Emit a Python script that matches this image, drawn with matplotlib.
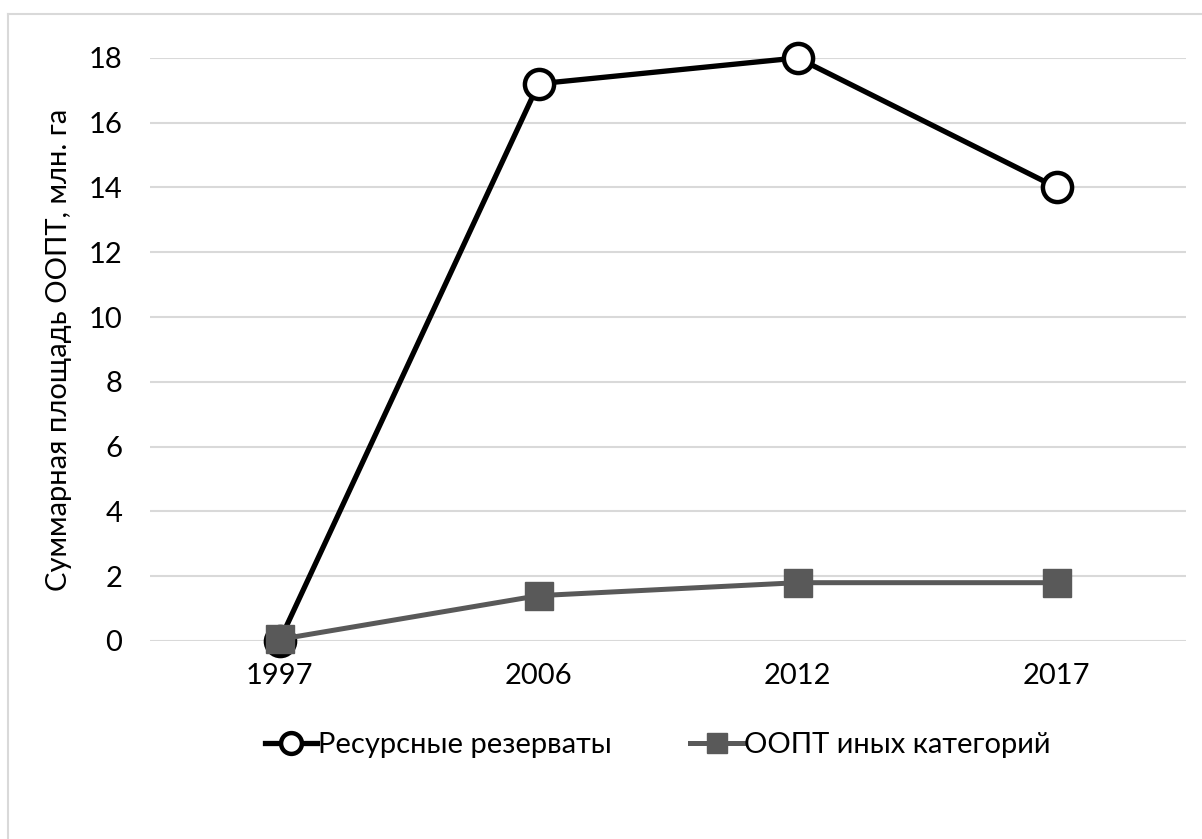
"""
Суммарная площадь ООПТ: ресурсные резерваты vs ООПТ иных категорий.
Excel-style line chart redrawn with matplotlib.
"""
import matplotlib
matplotlib.use("Agg")
import matplotlib.pyplot as plt
from matplotlib.lines import Line2D

plt.rcParams["font.family"] = ["Lato", "DejaVu Sans"]

# --------------------------------------------------------------------------- #
# Data
# --------------------------------------------------------------------------- #
years = ["1997", "2006", "2012", "2017"]
resource_reserves = [0.0, 17.2, 18.0, 14.0]
other_categories = [0.05, 1.4, 1.8, 1.8]
yticks = list(range(0, 20, 2))

LABEL_1 = "Ресурсные резерваты"
LABEL_2 = "ООПТ иных категорий"
YLABEL = "Суммарная площадь ООПТ, млн. га"

GRID = "#d9d9d9"
GRAY = "#595959"
FS = 21

fig = plt.figure(figsize=(12.02, 8.39), dpi=100)
ax = fig.add_axes([0.1248, 0.236, 0.862, 0.695])

x = list(range(len(years)))
ax.plot(x, resource_reserves, color="black", lw=3.8, marker="o", ms=21,
        mfc="white", mec="black", mew=3.2, label=LABEL_1, zorder=3,
        clip_on=False)
ax.plot(x, other_categories, color=GRAY, lw=3.6, marker="s", ms=20,
        mfc=GRAY, mec=GRAY, label=LABEL_2, zorder=4, clip_on=False)

ax.set_xlim(-0.5, len(years) - 0.5)
ax.set_ylim(0, 18)
ax.set_xticks(x)
ax.set_xticklabels(years)
ax.set_yticks(yticks)
ax.tick_params(axis="y", length=0, labelsize=FS, pad=20)
ax.tick_params(axis="x", length=0, labelsize=FS, pad=16)
ax.grid(axis="y", color=GRID, lw=1.5)
ax.set_axisbelow(True)
for s in ax.spines.values():
    s.set_visible(False)
ax.set_ylabel(YLABEL, fontsize=FS, labelpad=12)

# legend at the bottom (line + marker handles as in Excel)
h1 = Line2D([], [], color="black", lw=3.8, marker="o", ms=15,
            mfc="white", mec="black", mew=3.2)
h2 = Line2D([], [], color=GRAY, lw=3.6, marker="s", ms=15, mfc=GRAY, mec=GRAY)
fig.legend([h1, h2], [LABEL_1, LABEL_2], loc="center",
           bbox_to_anchor=(0.547, 0.112), ncol=2, frameon=False,
           fontsize=FS, handlelength=1.8, handletextpad=0.02,
           columnspacing=2.7)

# chart area border (left and top edges visible)
fig.add_artist(Line2D([8 / 1202, 8 / 1202], [0, 1 - 14 / 839],
                      transform=fig.transFigure, color=GRID, lw=1.5))
fig.add_artist(Line2D([8 / 1202, 1], [1 - 14 / 839, 1 - 14 / 839],
                      transform=fig.transFigure, color=GRID, lw=1.5))

fig.savefig("out.png", dpi=100, facecolor="white")
